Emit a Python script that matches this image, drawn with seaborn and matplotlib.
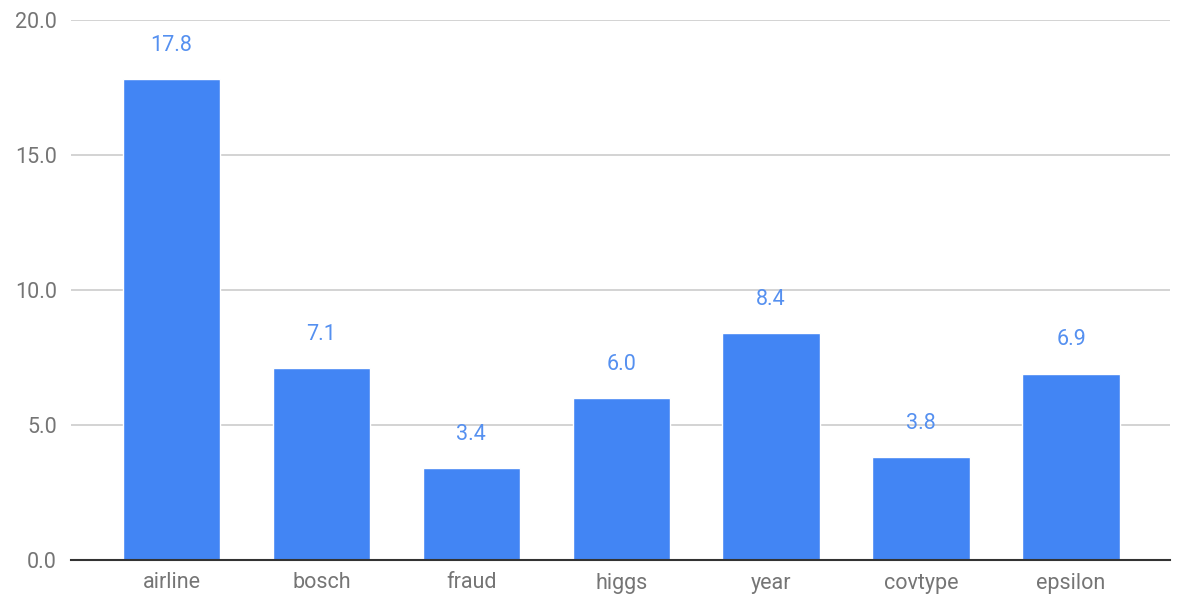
import matplotlib
matplotlib.use("Agg")
import matplotlib.pyplot as plt
import seaborn as sns
import pandas as pd

categories = ["airline", "bosch", "fraud", "higgs", "year", "covtype", "epsilon"]
values = [17.8, 7.1, 3.4, 6.0, 8.4, 3.8, 6.9]
yticks = [0.0, 5.0, 10.0, 15.0, 20.0]

sns.set_theme(style="white")
plt.rcParams['font.family'] = ['Roboto', 'DejaVu Sans']

df = pd.DataFrame({"dataset": categories, "value": values})

fig = plt.figure(figsize=(11.78, 5.96), dpi=100)
ax = fig.add_axes([71/1178, 1-560/596, (1170-71)/1178, 540/596])

sns.barplot(data=df, x="dataset", y="value", color="#4285F4", saturation=1,
            width=0.65, ax=ax, zorder=3)

for i, v in enumerate(values):
    ax.text(i, v + 1.25, f"{v:.1f}", ha="center", va="center", color="#5590F0", fontsize=15.5)

ax.set_ylim(0, 20)
ax.set_xlim(-0.67, 6.66)
ax.set_yticks(yticks)
ax.set_yticklabels([f"{t:.1f}" for t in yticks])
ax.yaxis.grid(True, color="#cccccc", linewidth=1.2, zorder=0)
ax.set_axisbelow(True)
for s in ["top", "right", "left"]:
    ax.spines[s].set_visible(False)
ax.spines["bottom"].set_color("#333333")
ax.spines["bottom"].set_linewidth(1.5)
ax.spines["bottom"].set_zorder(5)
ax.tick_params(axis="both", length=0, labelsize=15.5, labelcolor="#757575")
ax.tick_params(axis="y", pad=10)
ax.tick_params(axis="x", pad=9)
ax.set_xlabel("")
ax.set_ylabel("")

fig.savefig("out.png", dpi=100)
